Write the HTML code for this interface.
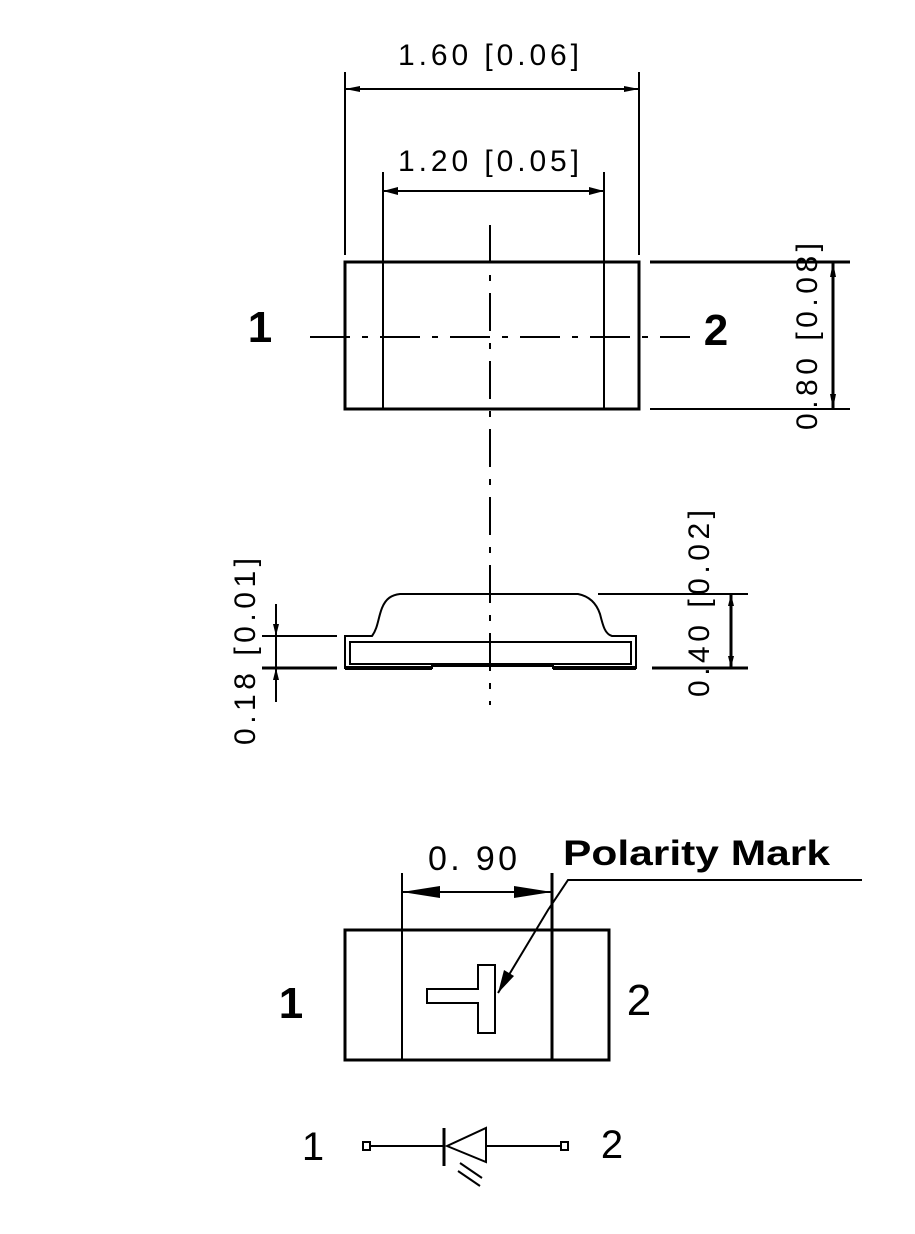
<!DOCTYPE html>
<html><head><meta charset="utf-8"><style>html,body{margin:0;padding:0;background:#fff}svg{display:block}</style></head>
<body>
<svg width="915" height="1234" viewBox="0 0 915 1234" xmlns="http://www.w3.org/2000/svg" font-family="Liberation Sans, sans-serif">
<g stroke="#000" fill="none" stroke-width="2">
<line x1="345" y1="72" x2="345" y2="255"/>
<line x1="639" y1="72" x2="639" y2="255"/>
<line x1="345" y1="89" x2="639" y2="89"/>
<line x1="383" y1="172" x2="383" y2="262"/>
<line x1="604" y1="172" x2="604" y2="262"/>
<line x1="383" y1="191" x2="604" y2="191"/>
<rect x="345" y="262" width="294" height="147" stroke-width="3"/>
<line x1="383" y1="262" x2="383" y2="409"/>
<line x1="604" y1="262" x2="604" y2="409"/>
<line x1="650" y1="262" x2="850" y2="262" stroke-width="3"/>
<line x1="650" y1="409" x2="850" y2="409"/>
<line x1="833" y1="262" x2="833" y2="409" stroke-width="3"/>
<line x1="310" y1="337" x2="690" y2="337" stroke-dasharray="40,12,6,12"/>
<line x1="490" y1="225" x2="490" y2="705" stroke-dasharray="38,12,6,12"/>
<path d="M345 636 L372 636 C378 628 378 618 382 608 C386 598 392 595 400 594 L578 594 C588 596 596 602 600 614 C603 626 605 634 612 636 L636 636 L636 668 L553 668 L553 666 L432 666 L432 668 L345 668 Z"/>
<rect x="350" y="642" width="281" height="22"/>
<line x1="345" y1="668" x2="432" y2="668" stroke-width="4"/>
<line x1="553" y1="668" x2="636" y2="668" stroke-width="4"/>
<line x1="262" y1="636" x2="337" y2="636"/>
<line x1="262" y1="668" x2="337" y2="668" stroke-width="3"/>
<line x1="276" y1="604" x2="276" y2="702"/>
<line x1="598" y1="594" x2="748" y2="594"/>
<line x1="652" y1="668" x2="748" y2="668" stroke-width="3"/>
<line x1="731" y1="594" x2="731" y2="668" stroke-width="3"/>
<rect x="345" y="930" width="264" height="130" stroke-width="3"/>
<line x1="402" y1="873" x2="402" y2="1060"/>
<line x1="552" y1="873" x2="552" y2="1060" stroke-width="3"/>
<line x1="402" y1="892" x2="552" y2="892"/>
<path d="M427 989 H478 V965 H495 V1033 H478 V1003 H427 Z"/>
<polyline points="862,880 568,880 548,910 498,993"/>
<line x1="371" y1="1146" x2="444" y2="1146"/>
<line x1="486" y1="1146" x2="561" y2="1146"/>
<rect x="363" y="1142" width="7" height="8"/>
<rect x="561" y="1142" width="7" height="8"/>
<line x1="444" y1="1128" x2="444" y2="1166" stroke-width="3"/>
<polygon points="447,1146 486,1128 486,1162"/>
<line x1="460" y1="1163" x2="482" y2="1178" stroke-width="2"/>
<line x1="458" y1="1171" x2="480" y2="1186" stroke-width="2"/>
</g>
<g fill="#000" stroke="none">
<polygon points="345,89 360,86 360,92"/><polygon points="639,89 624,86 624,92"/>
<polygon points="383,191 398,187 398,195"/><polygon points="604,191 589,187 589,195"/>
<polygon points="833,262 830,277 836,277"/><polygon points="833,409 830,394 836,394"/>
<polygon points="731,594 728,606 734,606"/><polygon points="731,668 728,656 734,656"/>
<polygon points="276,636 273,624 279,624"/><polygon points="276,668 273,680 279,680"/>
<polygon points="402,892 440,886 440,898"/><polygon points="552,892 514,886 514,898"/>
<polygon points="498,993 504,970 514,976"/>
</g>
<g fill="#000" font-size="30" letter-spacing="3">
<text x="490" y="65" text-anchor="middle" textLength="184" lengthAdjust="spacing">1.60  [0.06]</text>
<text x="490" y="171" text-anchor="middle" textLength="184" lengthAdjust="spacing">1.20  [0.05]</text>
<text transform="translate(817,335) rotate(-90)" text-anchor="middle" textLength="190" lengthAdjust="spacing">0.80  [0.08]</text>
<text transform="translate(255,650) rotate(-90)" text-anchor="middle" textLength="190" lengthAdjust="spacing">0.18  [0.01]</text>
<text transform="translate(709,602) rotate(-90)" text-anchor="middle" textLength="190" lengthAdjust="spacing">0.40  [0.02]</text>
<text x="474" y="870" text-anchor="middle" font-size="34" textLength="92" lengthAdjust="spacing">0. 90</text>
<text x="563" y="865" font-size="35" font-weight="bold" letter-spacing="0" textLength="267" lengthAdjust="spacingAndGlyphs">Polarity Mark</text>
<text x="260" y="342" text-anchor="middle" font-size="44" font-weight="bold" letter-spacing="0">1</text>
<text x="716" y="345" text-anchor="middle" font-size="44" font-weight="bold" letter-spacing="0">2</text>
<text x="291" y="1018" text-anchor="middle" font-size="44" font-weight="bold" letter-spacing="0">1</text>
<text x="639" y="1015" text-anchor="middle" font-size="44" letter-spacing="0">2</text>
<text x="313" y="1160" text-anchor="middle" font-size="40" letter-spacing="0">1</text>
<text x="612" y="1158" text-anchor="middle" font-size="40" letter-spacing="0">2</text>
</g>
</svg>
</body></html>
